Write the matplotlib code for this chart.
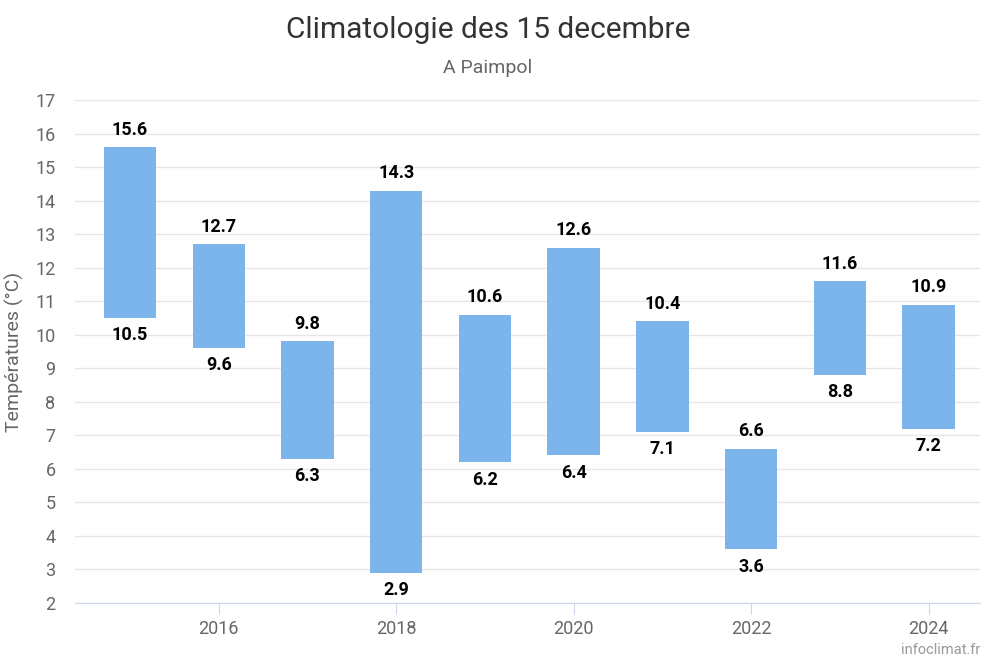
""" Climatologie des 15 decembre - A Paimpol """

# imports
import matplotlib.pyplot as plt

plt.rcParams['font.family'] = ['Roboto', 'DejaVu Sans']

# data
years = [2015, 2016, 2017, 2018, 2019, 2020, 2021, 2022, 2023, 2024]
t_min = [10.5, 9.6, 6.3, 2.9, 6.2, 6.4, 7.1, 3.6, 8.8, 7.2]
t_max = [15.6, 12.7, 9.8, 14.3, 10.6, 12.6, 10.4, 6.6, 11.6, 10.9]
x_ticks = [2016, 2018, 2020, 2022, 2024]
y_ticks = list(range(2, 18))

# figure
fig = plt.figure(figsize=(10, 6.65), dpi=100)
ax = fig.add_axes([0.075, 0.0932, 0.905, 0.7564])

# bars from min to max
heights = [hi - lo for lo, hi in zip(t_min, t_max)]
ax.bar(years, heights, bottom=t_min, width=0.59, color='#7cb5ec', zorder=3)

# value labels
for x, lo, hi in zip(years, t_min, t_max):
    ax.annotate(f'{hi}', (x, hi), xytext=(0, 6), textcoords='offset points',
                ha='center', va='bottom', fontsize=13, fontweight='bold', color='black')
    ax.annotate(f'{lo}', (x, lo), xytext=(0, -6), textcoords='offset points',
                ha='center', va='top', fontsize=13, fontweight='bold', color='black')

# axes
ax.set_xlim(2014.38, 2024.58)
ax.set_ylim(2, 17)
ax.set_yticks(y_ticks)
ax.set_xticks(x_ticks)
ax.grid(axis='y', color='#e6e6e6', linewidth=1, zorder=0)
for s in ['top', 'right', 'left']:
    ax.spines[s].set_visible(False)
ax.spines['bottom'].set_color('#ccd6eb')
ax.tick_params(axis='y', length=0, labelsize=13, labelcolor='#666666', pad=14)
ax.tick_params(axis='x', length=8, color='#ccd6eb', labelsize=13, labelcolor='#666666', pad=4)
ax.set_ylabel('Températures (°C)', fontsize=14, color='#666666', labelpad=8)

# titles
fig.text(0.488, 0.955, 'Climatologie des 15 decembre', ha='center', va='center',
         fontsize=21.5, color='#333333')
fig.text(0.488, 0.897, 'A Paimpol', ha='center', va='center', fontsize=14, color='#666666')
fig.text(0.98, 0.023, 'infoclimat.fr', ha='right', va='center', fontsize=10.5, color='#999999')

plt.savefig('out.png', dpi=100)
